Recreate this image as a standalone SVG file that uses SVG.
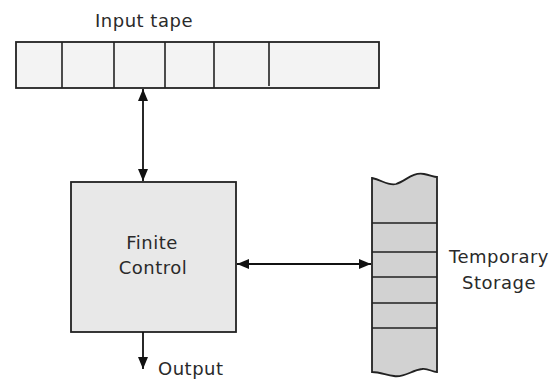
<svg xmlns="http://www.w3.org/2000/svg" width="560" height="383" viewBox="0 0 560 383">
<defs>
<marker id="ah" viewBox="0 0 12 10" refX="12" refY="5" markerWidth="12" markerHeight="10" markerUnits="userSpaceOnUse" orient="auto-start-reverse">
<path d="M0,0 L12,5 L0,10 Z" fill="#111"/>
</marker>
<style>
.lbl{font-family:"DejaVu Sans","Liberation Sans",sans-serif;font-size:18px;fill:#2a2a2a;letter-spacing:0.5px}
.ln{stroke:#222;stroke-width:1.6;fill:none}
</style>
</defs>
<rect width="560" height="383" fill="#fff"/>
<g id="input-tape">
<rect x="16" y="42" width="363" height="46" fill="#f3f3f3" stroke="#222" stroke-width="1.8"/>
<path class="ln" d="M62,42V88M114,42V88M165,42V88M214,42V88M269,42V86"/>
<text class="lbl" x="144" y="27" text-anchor="middle">Input tape</text>
</g>
<g id="finite-control">
<rect x="71" y="182" width="165" height="150" fill="#e8e8e8" stroke="#222" stroke-width="1.8"/>
<text class="lbl" x="152" y="249" text-anchor="middle">Finite</text>
<text class="lbl" x="153" y="274" text-anchor="middle">Control</text>
</g>
<g id="temporary-storage">
<path d="M372,178 C382,180 388,186 396,184 C406,181 412,172 424,174 C430,175 434,177 437,177 L437,372 C432,372 428,368 422,369 C412,370 404,378 394,376 C386,375 380,372 372,372 Z" fill="#d2d2d2" stroke="#222" stroke-width="1.8"/>
<path class="ln" d="M372,223H437M372,252H437M372,277H437M372,303H437M372,328H437"/>
<text class="lbl" x="499" y="263" text-anchor="middle">Temporary</text>
<text class="lbl" x="499" y="289" text-anchor="middle">Storage</text>
</g>
<g id="output">
<text class="lbl" x="158" y="375">Output</text>
</g>
<g id="connectors" stroke="#111" stroke-width="1.8" fill="none">
<line x1="143" y1="89" x2="143" y2="181" marker-start="url(#ah)" marker-end="url(#ah)"/>
<line x1="237" y1="264" x2="371" y2="264" marker-start="url(#ah)" marker-end="url(#ah)"/>
<line x1="143" y1="332" x2="143" y2="369" marker-end="url(#ah)"/>
</g>
</svg>
